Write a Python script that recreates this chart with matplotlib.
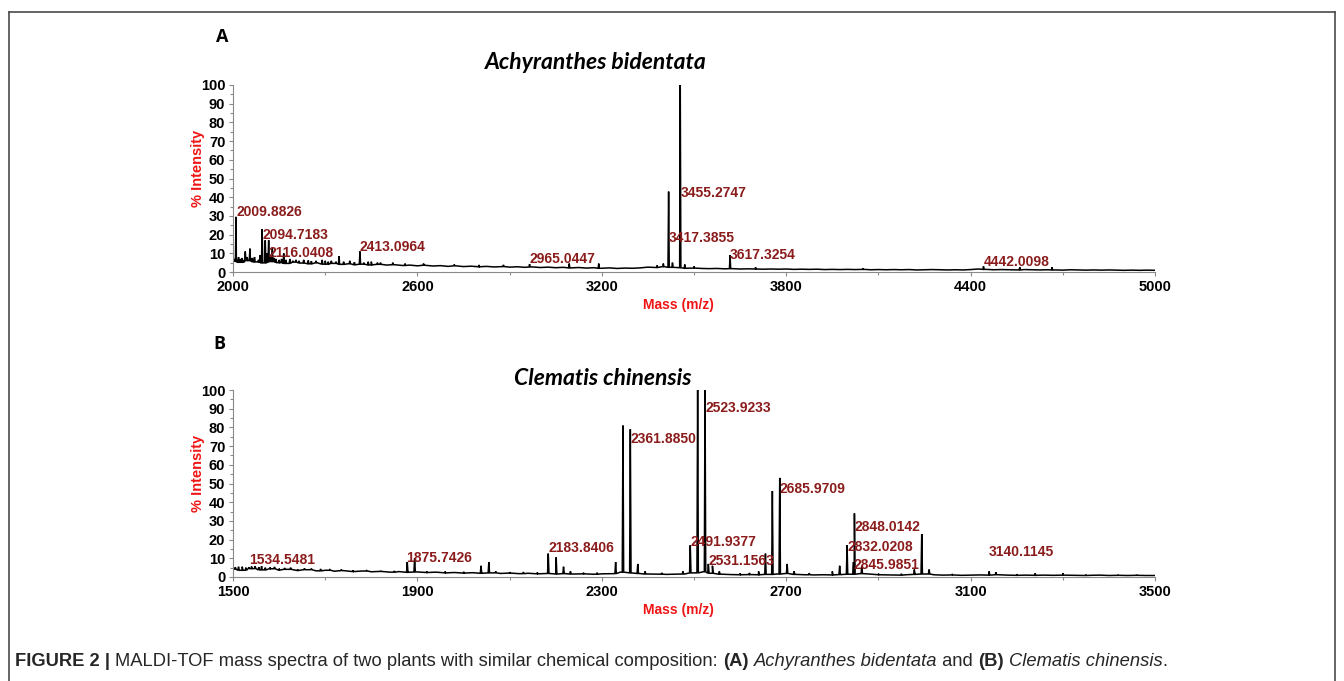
import numpy as np
import matplotlib.pyplot as plt
from matplotlib.ticker import MultipleLocator
from matplotlib.lines import Line2D

plt.rcParams['font.family'] = ['Liberation Sans', 'DejaVu Sans']

# ---- Panel A: Achyranthes bidentata -------------------------------------
a_grid = np.arange(2000, 5001, 25)
a_base = [5.8, 5.2, 6.1, 5.4, 4.9, 5.6, 5.0, 4.6, 5.3, 4.8, 4.4, 4.9, 4.2, 4.6, 4.1, 4.4, 3.9, 4.2, 3.8, 4.1, 3.7,
          3.9, 3.5, 3.7, 3.3, 3.6, 3.2, 3.4, 3.0, 3.3, 2.9, 3.1, 2.8, 3.0, 2.7, 2.9, 2.6, 2.8, 2.5, 2.7, 2.4,
          2.6, 2.3, 2.5, 2.2, 2.4, 2.1, 2.3, 2.0, 2.2, 1.9, 2.1, 2.0, 2.2, 2.6, 2.4, 2.9, 2.5, 2.3, 2.0, 2.1,
          1.9, 1.8, 1.9, 1.7, 1.8, 1.6, 1.7, 1.6, 1.5, 1.6, 1.5, 1.6, 1.4, 1.5, 1.4, 1.5, 1.3, 1.4, 1.3, 1.4,
          1.3, 1.4, 1.2, 1.3, 1.2, 1.3, 1.2, 1.3, 1.1, 1.2, 1.3, 1.2, 1.1, 1.2, 1.1, 1.3, 1.6, 1.4, 1.2, 1.3,
          1.2, 1.1, 1.3, 1.2, 1.1, 1.2, 1.1, 1.0, 1.2, 1.1, 1.0, 1.1, 1.0, 1.1, 1.0, 0.9, 1.0, 0.9, 1.0, 0.9]
a_peak_mz = [2005, 2009.8826, 2013, 2018, 2024, 2030, 2035, 2040, 2046, 2055, 2063, 2070, 2083, 2088,
             2094.7183, 2105, 2110, 2116.0408, 2122, 2128, 2134, 2140, 2150, 2158, 2165, 2172, 2185,
             2195, 2205, 2215, 2230, 2245, 2255, 2270, 2290, 2300, 2310, 2320, 2335, 2345, 2360,
             2380, 2395, 2413.0964, 2425, 2440, 2450, 2470, 2480, 2520, 2560, 2620, 2720, 2800,
             2880, 2965.0447, 3094, 3190, 3380, 3400, 3417.3855, 3430, 3455.2747, 3470, 3500,
             3617.3254, 3700, 4050, 4442.0098, 4560, 4665]
a_peak_int = [7, 29.5, 6.5, 8, 7, 7.5, 6, 11, 8, 12.5, 7.5, 8, 6.5, 9,
              23, 17, 10, 17, 8, 13, 7.5, 7, 6.5, 7, 10, 6.5, 7,
              6, 6.5, 6, 6.5, 6.2, 5.8, 6, 6.5, 6, 5.5, 6, 5.5, 8.5, 5.5,
              6, 5.2, 11, 5, 5.5, 5.5, 5, 5, 5, 4.5, 4.5, 4, 3.8,
              3.8, 4.2, 4.5, 4.5, 3.5, 4.5, 43, 5, 100, 4, 3,
              9, 2.5, 2, 3, 2.5, 2.5]
a_labeled = [2009.8826, 2094.7183, 2116.0408, 2413.0964, 2965.0447,
             3455.2747, 3417.3855, 3617.3254, 4442.0098]
a_xticks = [2000, 2600, 3200, 3800, 4400, 5000]

# ---- Panel B: Clematis chinensis ----------------------------------------
b_grid = np.arange(1500, 3501, 20)
b_base = [4.2, 3.6, 4.5, 3.8, 4.4, 3.7, 4.1, 3.5, 3.9, 3.3, 3.6,
          3.1, 3.4, 2.9, 3.2, 2.8, 3.0, 2.6, 2.9, 2.5, 2.7,
          2.4, 2.6, 2.2, 2.4, 2.1, 2.3, 2.0, 2.2, 1.9, 2.1,
          1.8, 2.0, 1.7, 1.9, 1.6, 1.8, 1.6, 1.7, 1.5, 1.7,
          1.8, 2.6, 2.2, 1.9, 1.6, 1.5, 1.4, 1.5, 1.6, 2.2,
          2.8, 2.0, 1.5, 1.3, 1.2, 1.3, 1.2, 1.4, 1.6, 1.9,
          1.4, 1.2, 1.1, 1.2, 1.1, 1.3, 1.5, 1.8, 1.6, 1.2,
          1.1, 1.0, 1.2, 1.4, 1.6, 1.2, 1.0, 1.1, 0.9, 1.0,
          1.1, 1.0, 1.2, 1.0, 0.9, 1.0, 0.9, 1.0, 0.9, 1.0,
          0.9, 0.8, 0.9, 1.0, 0.8, 0.9, 0.8, 0.9, 0.8, 0.8]
b_peak_mz = [1505, 1512, 1520, 1528, 1534.5481, 1540, 1548, 1556, 1562, 1570, 1580, 1590,
             1600, 1612, 1625, 1640, 1655, 1670, 1690, 1710, 1735, 1760, 1790, 1820, 1850,
             1878, 1894, 1920, 1960, 2000, 2038, 2055, 2070, 2100, 2130, 2160,
             2183.8406, 2201, 2217, 2232, 2260, 2290, 2330, 2345.9, 2361.8850, 2378, 2394,
             2430, 2476, 2491.9377, 2507.9, 2523.9233, 2531.1563, 2540, 2555,
             2600, 2620, 2640, 2655, 2670, 2685.9709, 2702, 2717, 2750,
             2800, 2816, 2832.0208, 2845.9851, 2848.0142, 2864, 2900, 2950,
             2978, 2994, 3010, 3060, 3140.1145, 3155, 3200, 3240, 3300, 3350, 3420, 3460]
b_peak_int = [5.2, 5.5, 5.5, 5, 5.2, 5.6, 5.8, 5.3, 5.8, 5, 5.1, 5.4,
              4.5, 4.8, 5, 4, 4.6, 4.5, 4.3, 4, 4, 3.6, 3.5, 3.3, 3.2,
              8, 10, 3, 3, 2.8, 6, 8, 3, 2.6, 2.6, 2.5,
              12.5, 10.5, 5.5, 3, 2.3, 2.3, 8, 81, 79, 7, 3,
              2.2, 3, 17, 100, 100, 7, 6, 3,
              2, 2.2, 3, 12.5, 46, 53, 7, 3, 2,
              3, 6, 17, 8, 34, 6, 1.8, 1.7,
              4, 23, 4, 1.6, 3, 2.5, 1.5, 2, 2, 1.3, 1.2, 1.2]
b_labeled = [1534.5481, 1875.7426, 2183.8406, 2361.8850, 2523.9233, 2491.9377,
             2531.1563, 2685.9709, 2848.0142, 2832.0208, 2845.9851, 3140.1145]
b_xticks = [1500, 1900, 2300, 2700, 3100, 3500]

TEXT_RED = '#f01515'
LABEL_RED = '#8b1c1c'


def spectrum(grid, base, mz, inten, half):
    # baseline samples plus a narrow triangle for every peak
    grid = np.asarray(grid, float)
    base = np.asarray(base, float)
    xs, ys = list(grid), list(base)
    for m, h in zip(mz, inten):
        b = base[np.abs(grid - m).argmin()]
        xs += [m - half, m, m + half]
        ys += [b, h, b]
    order = np.argsort(xs, kind='stable')
    return np.asarray(xs)[order], np.asarray(ys)[order]


def panel(ax, grid, base, mz, inten, half, labeled, label_y, xticks, title, title_xy):
    x, y = spectrum(grid, base, mz, inten, half)
    ax.plot(x, y, color='black', lw=1.1, solid_joinstyle='miter')
    ax.set_xlim(xticks[0], xticks[-1])
    ax.set_ylim(0, 100)
    ax.set_xticks(xticks)
    ax.set_xticks([(p + q) / 2 for p, q in zip(xticks[:-1], xticks[1:])], minor=True)
    ax.yaxis.set_major_locator(MultipleLocator(10))
    ax.yaxis.set_minor_locator(MultipleLocator(5))
    for s in ('top', 'right'):
        ax.spines[s].set_visible(False)
    for s in ('left', 'bottom'):
        ax.spines[s].set_color('#8a8a8a')
        ax.spines[s].set_linewidth(0.8)
    ax.tick_params(which='both', direction='out', color='#8a8a8a', width=0.8)
    ax.tick_params(which='major', length=3, labelsize=10.5, pad=2.5)
    ax.tick_params(which='minor', length=2)
    for lab in ax.get_xticklabels() + ax.get_yticklabels():
        lab.set_fontweight('bold')
    ax.text(-0.038, 0.556, '% Intensity', transform=ax.transAxes, rotation=90,
            ha='center', va='center', color=TEXT_RED, fontsize=10.5, fontweight='bold')
    ax.text(0.483, -0.175, 'Mass (m/z)', transform=ax.transAxes,
            ha='center', va='center', color=TEXT_RED, fontsize=10, fontweight='bold')
    for m, ly in zip(labeled, label_y):
        ax.text(m, ly, f'{m:.4f}', ha='left', va='center', color=LABEL_RED,
                fontsize=10, fontweight='bold')
    ax.text(title_xy[0], title_xy[1], title, transform=ax.transAxes, ha='center', va='center',
            fontsize=16.5, fontweight='bold', style='italic', family=['Lato', 'DejaVu Sans'])


fig = plt.figure(figsize=(13.44, 6.81), dpi=100)
W, H = 1344, 681

ax_a = fig.add_axes([233 / W, 1 - 272 / H, 922 / W, 187 / H])
ax_b = fig.add_axes([233 / W, 1 - 577 / H, 922 / W, 187 / H])

panel(ax_a, a_grid, a_base, a_peak_mz, a_peak_int, 2.0, a_labeled,
      [32, 19.8, 10.3, 13.2, 7, 42.3, 18, 9.3, 5.3],
      a_xticks, 'Achyranthes bidentata', (0.394, 1.12))
panel(ax_b, b_grid, b_base, b_peak_mz, b_peak_int, 1.5, b_labeled,
      [9, 9.9, 15.7, 74, 90.6, 18.8, 8.8, 47.3, 26.5, 16.2, 6.3, 13.5],
      b_xticks, 'Clematis chinensis', (0.401, 1.062))

fig.text(222 / W, 1 - 37 / H, 'A', ha='center', va='center', fontsize=13,
         fontweight='bold', family=['Open Sans', 'DejaVu Sans'])
fig.text(219 / W, 1 - 344 / H, 'B', ha='center', va='center', fontsize=13,
         fontweight='bold', family=['Open Sans', 'DejaVu Sans'])

# outer frame
frame = dict(color='#4a4a4a', lw=1.2, transform=fig.transFigure)
fig.add_artist(Line2D([9 / W, 9 / W], [1 - 12 / H, 0], **frame))
fig.add_artist(Line2D([9 / W, 1335 / W], [1 - 12 / H, 1 - 12 / H], **frame))
fig.add_artist(Line2D([1335 / W, 1335 / W], [1 - 12 / H, 0], **frame))

# caption built from runs with different weights / styles
parts = [('FIGURE 2 | ', 'bold', 'normal'),
         ('MALDI-TOF mass spectra of two plants with similar chemical composition: ', 'normal', 'normal'),
         ('(A)', 'bold', 'normal'), (' ', 'normal', 'normal'),
         ('Achyranthes bidentata', 'normal', 'italic'), (' and ', 'normal', 'normal'),
         ('(B)', 'bold', 'normal'), (' ', 'normal', 'normal'),
         ('Clematis chinensis', 'normal', 'italic'), ('.', 'normal', 'normal')]
renderer = fig.canvas.get_renderer()
cx = 15 / W
for txt, wt, st in parts:
    t = fig.text(cx, 1 - 661 / H, txt, ha='left', va='center', fontsize=13.2,
                 fontweight=wt, style=st, color='#262626')
    cx += t.get_window_extent(renderer).width / W

fig.savefig('out.png', dpi=100)
